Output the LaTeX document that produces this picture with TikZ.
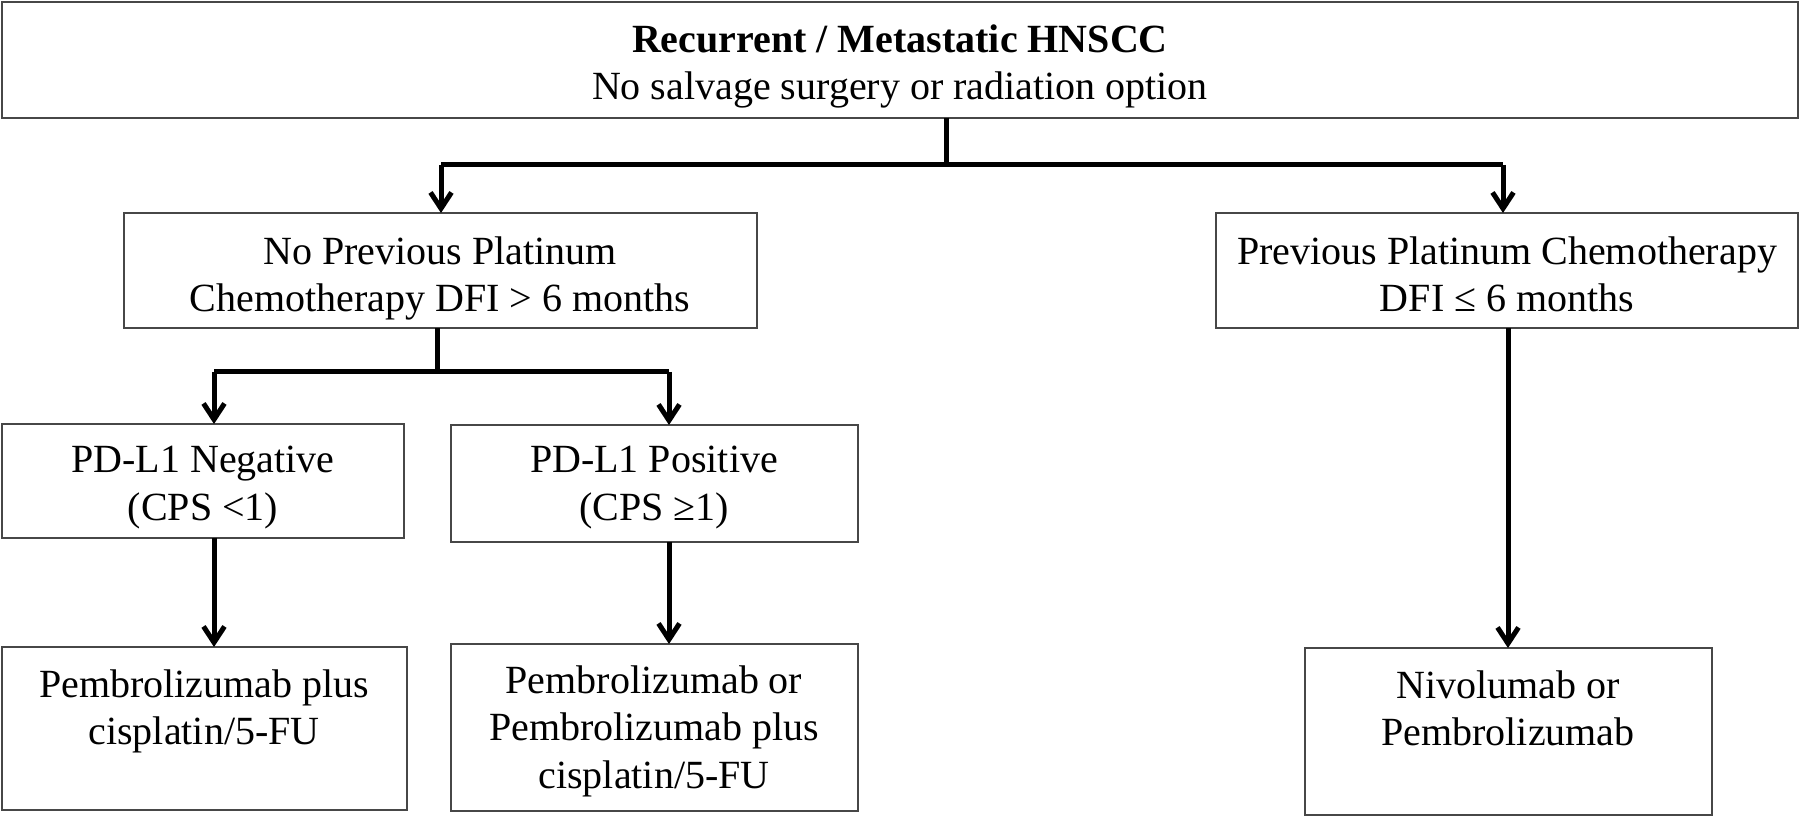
\documentclass[tikz,border=0pt]{standalone}
\usepackage{fontspec}
\setmainfont{Liberation Serif}
\usetikzlibrary{arrows.meta}
\begin{document}
\begin{tikzpicture}[x=0.5pt,y=-0.5pt,
  box/.style={draw=black!72, line width=1pt, inner sep=0pt, outer sep=0pt, anchor=north west},
  txt/.style={font=\fontsize{20pt}{23.75pt}\selectfont, align=center, inner sep=0pt, anchor=north},
  conn/.style={line width=2.5pt, black},
  arr/.style={conn, -{Straight Barb[length=8pt,width=10.5pt]}}]
\useasboundingbox (0,0) rectangle (1800,817);
% boxes
\node[box, minimum width=898pt, minimum height=58pt] (T) at (2,2) {};
\node[box, minimum width=316.5pt, minimum height=57.5pt] (A) at (124,213) {};
\node[box, minimum width=291pt, minimum height=57.5pt] (B) at (1216,213) {};
\node[box, minimum width=201pt, minimum height=57pt] (C) at (2,424) {};
\node[box, minimum width=203.5pt, minimum height=58.5pt] (D) at (451,425) {};
\node[box, minimum width=202.5pt, minimum height=81.5pt] (E) at (2,647) {};
\node[box, minimum width=203.5pt, minimum height=83.5pt] (F) at (451,644) {};
\node[box, minimum width=203.5pt, minimum height=83.5pt] (G) at (1305,648) {};
% texts
\node[txt] (tT) at (900,24) {\textbf{Recurrent / Metastatic HNSCC}\\No salvage surgery or radiation option};
\node[txt] (tA) at (440,236) {No Previous Platinum\\Chemotherapy DFI > 6 months};
\node[txt] (tB) at (1507,236) {Previous Platinum Chemotherapy\\DFI ≤ 6 months};
\node[txt] (tC) at (203,446) {PD-L1 Negative\\(CPS <1)};
\node[txt] (tD) at (654,446) {PD-L1 Positive\\(CPS ≥1)};
\node[txt] (tE) at (204,669) {Pembrolizumab plus\\cisplatin/5-FU};
\node[txt] (tF) at (654,665) {Pembrolizumab or\\Pembrolizumab plus\\cisplatin/5-FU};
\node[txt] (tG) at (1508,670) {Nivolumab or\\Pembrolizumab};
% junction coordinates
\coordinate (hT) at (946,165);
\coordinate (hA) at (437,372);
\coordinate (xA) at (441,0);
\coordinate (xB) at (1503,0);
\coordinate (xC) at (214,0);
\coordinate (xD) at (669,0);
\coordinate (xG) at (1508,0);
% connectors
\draw[conn] (T.south -| hT) -- (hT);
\draw[conn] (hT) -- (hT -| xA);
\draw[conn] (hT) -- (hT -| xB);
\draw[arr] (hT -| xA) -- (A.north -| xA);
\draw[arr] (hT -| xB) -- (B.north -| xB);
\draw[conn] (A.south -| hA) -- (hA);
\draw[conn] (hA) -- (hA -| xC);
\draw[conn] (hA) -- (hA -| xD);
\draw[arr] (hA -| xC) -- (C.north -| xC);
\draw[arr] (hA -| xD) -- (D.north -| xD);
\draw[arr] (C.south -| xC) -- (E.north -| xC);
\draw[arr] (D.south -| xD) -- (F.north -| xD);
\draw[arr] (B.south -| xG) -- (G.north -| xG);
\end{tikzpicture}
\end{document}
